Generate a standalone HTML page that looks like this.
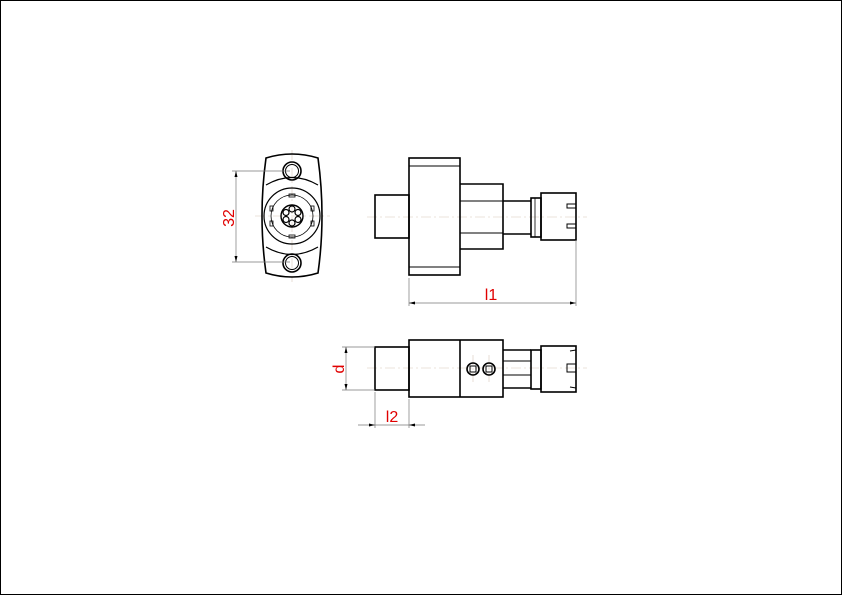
<!DOCTYPE html>
<html><head><style>body{margin:0;background:#fff}svg{display:block}</style></head><body>
<svg width="842" height="595" viewBox="0 0 842 595" xmlns="http://www.w3.org/2000/svg" font-family="Liberation Sans, sans-serif">
<rect x="0.5" y="0.5" width="841" height="594" fill="none" stroke="#000" stroke-width="1"/>
<g stroke="#d8c8b8" stroke-width="0.6" stroke-dasharray="10,3,2,3" fill="none">
<line x1="255" y1="216" x2="330" y2="216"/><line x1="292" y1="150" x2="292" y2="282"/>
<line x1="367" y1="217" x2="587" y2="217"/><line x1="367" y1="368" x2="587" y2="368"/>
<line x1="473" y1="355" x2="473" y2="382"/><line x1="489" y1="355" x2="489" y2="382"/>
</g>
<g stroke="#000" stroke-width="1.6" fill="none">
<!-- front view -->
<path d="M266,158 Q292,150 318,158 Q326,216 318,273 Q292,281 266,273 Q258,216 266,158Z"/>
<circle cx="292" cy="171" r="9"/><circle cx="292" cy="171" r="6.5" stroke-width="1"/>
<circle cx="292" cy="263" r="9"/><circle cx="292" cy="263" r="6.5" stroke-width="1"/>
<path d="M266,185 Q292,170 318,185 M266,247 Q292,262 318,247" stroke-width="1.2"/>
<circle cx="292" cy="216" r="28" stroke-width="1.2"/>
<circle cx="292" cy="216" r="21" stroke-width="0.8"/>
<circle cx="292" cy="216" r="11" stroke-width="1.4"/>
<g stroke-width="1.2"><circle cx="292" cy="209" r="3"/><circle cx="292" cy="223" r="3"/><circle cx="286" cy="212.5" r="3"/><circle cx="298" cy="212.5" r="3"/><circle cx="286" cy="219.5" r="3"/><circle cx="298" cy="219.5" r="3"/></g>
<g stroke-width="0.8"><rect x="289" y="194" width="6" height="3"/><rect x="289" y="235" width="6" height="3"/><rect x="270" y="206" width="3" height="5"/><rect x="311" y="206" width="3" height="5"/><rect x="270" y="221" width="3" height="5"/><rect x="311" y="221" width="3" height="5"/></g>
<!-- side view -->
<rect x="409" y="158" width="51" height="117"/>
<line x1="409" y1="166" x2="460" y2="166" stroke-width="1"/><line x1="409" y1="267" x2="460" y2="267" stroke-width="1"/>
<rect x="375" y="195" width="34" height="43"/>
<path d="M460,184 H503 V249 H460"/>
<line x1="460" y1="201" x2="503" y2="201" stroke-width="1"/><line x1="460" y1="233" x2="503" y2="233" stroke-width="1"/>
<path d="M503,201 H531 M503,234 H531"/>
<rect x="531" y="198" width="10" height="39"/>
<line x1="535" y1="198" x2="535" y2="237" stroke-width="0.8"/>
<rect x="541" y="193" width="35" height="47"/>
<path d="M576,204 H567 V208 H576 M576,224 H567 V228 H576" stroke-width="1"/>
<!-- bottom view -->
<rect x="375" y="347" width="34" height="43"/>
<rect x="409" y="340" width="94" height="57"/>
<line x1="460" y1="340" x2="460" y2="397"/>
<circle cx="473" cy="369" r="6"/><rect x="470" y="366" width="6" height="6" stroke-width="1"/>
<circle cx="489" cy="369" r="6"/><rect x="486" y="366" width="6" height="6" stroke-width="1"/>
<path d="M503,350 H531 M503,388 H531"/>
<line x1="503" y1="361" x2="531" y2="361" stroke-width="1"/><line x1="503" y1="375" x2="531" y2="375" stroke-width="1"/>
<rect x="531" y="350" width="10" height="39"/>
<rect x="541" y="346" width="35" height="46"/>
<path d="M576,350 L570,351 M576,364 H567 V372 H576 M576,388 L570,387" stroke-width="1"/>
</g>
<!-- dimensions -->
<g stroke="#777" stroke-width="0.7" fill="none">
<line x1="232" y1="171" x2="290" y2="171"/><line x1="232" y1="262" x2="290" y2="262"/>
<line x1="236" y1="171" x2="236" y2="262"/>
<line x1="409" y1="278" x2="409" y2="306"/><line x1="576" y1="240" x2="576" y2="306"/>
<line x1="409" y1="303" x2="576" y2="303"/>
<line x1="342" y1="347" x2="375" y2="347"/><line x1="342" y1="390" x2="375" y2="390"/>
<line x1="346" y1="347" x2="346" y2="390"/>
<line x1="375" y1="392" x2="375" y2="428"/><line x1="409" y1="399" x2="409" y2="428"/>
<line x1="358" y1="425" x2="425" y2="425"/>
</g>
<g fill="#000">
<path d="M236,171 l-1.5,6 h3z"/><path d="M236,262 l-1.5,-6 h3z"/>
<path d="M409,303 l6,-1.5 v3z"/><path d="M576,303 l-6,-1.5 v3z"/>
<path d="M346,347 l-1.5,6 h3z"/><path d="M346,390 l-1.5,-6 h3z"/>
<path d="M375,425 l-6,-1.5 v3z"/><path d="M409,425 l6,-1.5 v3z"/>
</g>
<g fill="#e00000" font-size="16">
<text x="234" y="218" transform="rotate(-90 234 218)" text-anchor="middle">32</text>
<text x="491" y="300" text-anchor="middle">l1</text>
<text x="344" y="369" transform="rotate(-90 344 369)" text-anchor="middle">d</text>
<text x="392" y="422" text-anchor="middle">l2</text>
</g>
</svg>
</body></html>
